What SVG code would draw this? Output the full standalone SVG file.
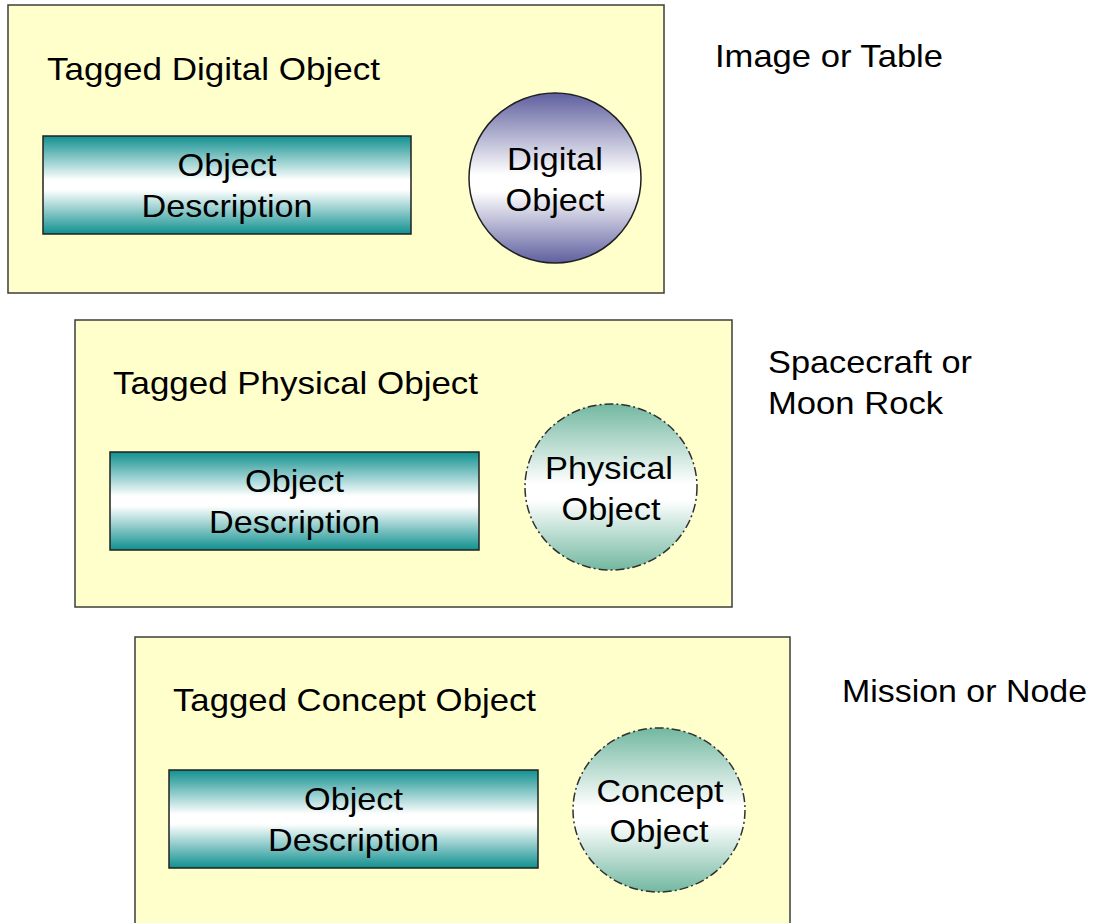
<svg xmlns="http://www.w3.org/2000/svg" width="1100" height="923" viewBox="0 0 1100 923">
<defs>
<linearGradient id="gTeal" x1="0" y1="0" x2="0" y2="1">
<stop offset="0" stop-color="#10908f"/>
<stop offset="0.45" stop-color="#ffffff"/>
<stop offset="0.55" stop-color="#ffffff"/>
<stop offset="1" stop-color="#10908f"/>
</linearGradient>
<linearGradient id="gPurple" x1="0" y1="0" x2="0" y2="1">
<stop offset="0" stop-color="#5f5f9f"/>
<stop offset="0.48" stop-color="#ffffff"/>
<stop offset="0.58" stop-color="#ffffff"/>
<stop offset="1" stop-color="#5f5f9f"/>
</linearGradient>
<linearGradient id="gGreen" x1="0" y1="0" x2="0" y2="1">
<stop offset="0" stop-color="#72b8a0"/>
<stop offset="0.48" stop-color="#ffffff"/>
<stop offset="0.58" stop-color="#ffffff"/>
<stop offset="1" stop-color="#72b8a0"/>
</linearGradient>
<style>
.box{fill:#ffffcc;stroke:#3c3c3c;stroke-width:1.5}
.desc{fill:url(#gTeal);stroke:#202020;stroke-width:1.5}
.dig{fill:url(#gPurple);stroke:#202020;stroke-width:1.5}
.phys{fill:url(#gGreen);stroke:#303030;stroke-width:1.5;stroke-dasharray:9 3 2 3}
text{font-family:"Liberation Sans",Arial,sans-serif;font-size:32px;fill:#000}
.c{text-anchor:middle}
</style>
</defs>
<rect width="1100" height="923" fill="#ffffff"/>

<g id="tagged-digital">
<rect class="box" x="8" y="5" width="656" height="288"/>
<text x="47" y="80" textLength="333" lengthAdjust="spacingAndGlyphs">Tagged Digital Object</text>
</g>
<g id="desc1">
<rect class="desc" x="43" y="136" width="368" height="98"/>
<text class="c" x="227" y="176" textLength="99" lengthAdjust="spacingAndGlyphs">Object</text>
<text class="c" x="227" y="217" textLength="171" lengthAdjust="spacingAndGlyphs">Description</text>
</g>
<g id="digital-object">
<ellipse class="dig" cx="555" cy="178" rx="86" ry="85"/>
<text class="c" x="555" y="170" textLength="96" lengthAdjust="spacingAndGlyphs">Digital</text>
<text class="c" x="555" y="211" textLength="99" lengthAdjust="spacingAndGlyphs">Object</text>
</g>
<g id="label-image">
<text x="715" y="67" textLength="228" lengthAdjust="spacingAndGlyphs">Image or Table</text>
</g>

<g id="tagged-physical">
<rect class="box" x="75" y="320" width="657" height="287"/>
<text x="113" y="394" textLength="365" lengthAdjust="spacingAndGlyphs">Tagged Physical Object</text>
</g>
<g id="desc2">
<rect class="desc" x="110" y="452" width="369" height="98"/>
<text class="c" x="294.5" y="492" textLength="99" lengthAdjust="spacingAndGlyphs">Object</text>
<text class="c" x="294.5" y="533" textLength="171" lengthAdjust="spacingAndGlyphs">Description</text>
</g>
<g id="physical-object">
<ellipse class="phys" cx="611" cy="487" rx="86" ry="83"/>
<text class="c" x="609" y="479" textLength="128" lengthAdjust="spacingAndGlyphs">Physical</text>
<text class="c" x="611" y="520" textLength="99" lengthAdjust="spacingAndGlyphs">Object</text>
</g>
<g id="label-spacecraft">
<text x="768" y="373" textLength="204" lengthAdjust="spacingAndGlyphs">Spacecraft or</text>
<text x="768" y="414" textLength="175" lengthAdjust="spacingAndGlyphs">Moon Rock</text>
</g>

<g id="tagged-concept">
<rect class="box" x="135" y="637" width="655" height="300"/>
<text x="173" y="711" textLength="363" lengthAdjust="spacingAndGlyphs">Tagged Concept Object</text>
</g>
<g id="desc3">
<rect class="desc" x="169" y="770" width="369" height="98"/>
<text class="c" x="353.5" y="810" textLength="99" lengthAdjust="spacingAndGlyphs">Object</text>
<text class="c" x="353.5" y="851" textLength="171" lengthAdjust="spacingAndGlyphs">Description</text>
</g>
<g id="concept-object">
<ellipse class="phys" cx="659" cy="810" rx="86" ry="82"/>
<text class="c" x="660" y="802" textLength="127" lengthAdjust="spacingAndGlyphs">Concept</text>
<text class="c" x="659" y="842" textLength="99" lengthAdjust="spacingAndGlyphs">Object</text>
</g>
<g id="label-mission">
<text x="842" y="702" textLength="245" lengthAdjust="spacingAndGlyphs">Mission or Node</text>
</g>

<g id="connectors"></g>
</svg>
